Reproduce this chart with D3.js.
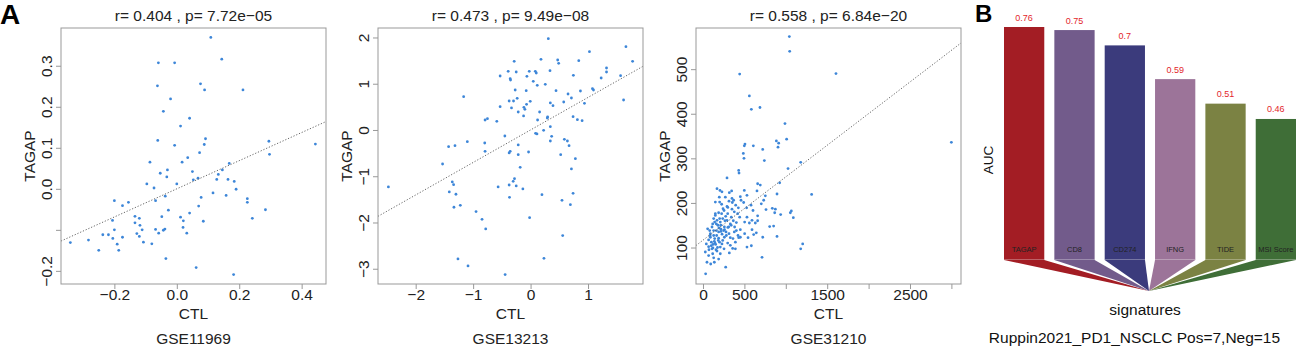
<!DOCTYPE html>
<html lang="en">
<head>
<meta charset="UTF-8">
<title>TAGAP vs CTL / AUC</title>
<style>
* { margin: 0; padding: 0; }
body { background: #fff; }
svg { display: block; font-family: "Liberation Sans", Arial, sans-serif; }
</style>
<script src="https://cdn.jsdelivr.net/npm/d3@7"></script>
</head>
<body>
<svg width="1299" height="350" id="svg1"></svg>
<script>
// ---- panel A data: [CTL, TAGAP] ----
const gse11969 = [
  [0.109,0.369],[0.144,0.316],[-0.059,0.307],[-0.007,0.307],[-0.062,0.251],[0.076,0.256],[0.089,0.241],[0.212,0.241],
  [-0.020,0.219],[-0.043,0.189],[0.041,0.172],[0.012,0.153],[-0.061,0.118],[0.092,0.122],[0.088,0.108],[-0.007,0.106],
  [0.295,0.116],[0.444,0.109],[0.297,0.084],[0.073,0.088],[0.035,0.076],[-0.086,0.065],[0.017,0.065],[0.168,0.062],
  [-0.030,0.046],[-0.053,0.038],[-0.032,0.029],[0.050,0.042],[0.133,0.035],[0.146,0.046],[0.068,0.026],[0.053,0.022],
  [0.128,0.023],[0.164,0.023],[0.184,0.018],[0.190,-0.001],[0.000,0.012],[-0.096,0.012],[-0.073,0.002],[0.116,-0.010],
  [0.158,-0.016],[-0.037,-0.018],[0.078,-0.021],[0.226,-0.024],[0.226,-0.033],[-0.068,-0.029],[-0.200,-0.029],[-0.155,-0.033],
  [-0.174,-0.041],[0.070,-0.042],[-0.027,-0.052],[0.284,-0.051],[0.041,-0.059],[-0.134,-0.067],[-0.048,-0.068],[0.012,-0.069],
  [-0.120,-0.072],[0.242,-0.072],[0.021,-0.078],[0.085,-0.079],[-0.206,-0.077],[-0.134,-0.083],[-0.118,-0.089],[0.020,-0.094],
  [-0.068,-0.099],[-0.111,-0.100],[-0.200,-0.100],[-0.038,-0.098],[-0.043,-0.101],[-0.058,-0.108],[0.032,-0.108],[-0.237,-0.112],
  [-0.219,-0.112],[-0.128,-0.109],[-0.120,-0.116],[-0.174,-0.118],[-0.205,-0.121],[-0.283,-0.125],[-0.341,-0.131],[-0.107,-0.130],
  [-0.080,-0.134],[-0.191,-0.135],[-0.250,-0.150],[-0.186,-0.150],[-0.035,-0.170],[0.062,-0.192],[0.182,-0.209]
];

const gse13213 = [
  [0.309,1.974],[1.660,1.801],[1.025,1.693],[1.776,1.484],[0.181,1.527],[0.472,1.513],[-0.285,1.484],[0.489,1.441],
  [0.839,1.499],[1.322,1.340],[0.338,1.282],[-0.390,1.268],[-0.250,1.254],[-0.023,1.268],[0.082,1.268],[0.099,1.232],
  [1.322,1.254],[-0.064,1.160],[-0.530,1.167],[0.745,1.182],[1.567,1.174],[1.229,1.124],[-0.355,1.110],[-0.349,1.081],
  [0.047,1.052],[0.116,0.965],[0.256,0.987],[1.077,0.893],[1.095,0.865],[-0.268,0.865],[-0.076,0.850],[0.443,0.850],
  [0.868,0.843],[0.652,0.778],[-1.165,0.720],[1.619,0.648],[0.711,0.692],[-0.233,0.684],[-0.373,0.627],[-0.297,0.627],
  [-0.006,0.620],[0.577,0.605],[0.344,0.584],[-0.070,0.555],[0.390,0.526],[0.938,0.576],[-0.530,0.504],[-0.332,0.476],
  [-0.116,0.490],[-0.099,0.447],[-0.215,0.389],[0.157,0.389],[-0.122,0.303],[0.740,0.288],[0.297,0.281],[0.291,0.259],
  [0.815,0.223],[0.897,0.202],[-0.792,0.216],[-0.751,0.245],[-0.588,0.187],[0.122,0.216],[0.344,0.072],[0.227,-0.007],
  [0.087,-0.072],[0.111,-0.086],[-0.448,-0.130],[0.367,-0.137],[-1.101,-0.252],[0.588,-0.202],[0.641,-0.238],[-1.427,-0.360],
  [-1.316,-0.339],[0.344,-0.238],[0.670,-0.339],[-0.215,-0.324],[-0.798,-0.281],[-0.792,-0.461],[-0.355,-0.461],[-0.373,-0.497],
  [-0.035,-0.476],[-0.215,-0.533],[0.524,-0.533],[0.780,-0.620],[-1.532,-0.735],[-0.181,-0.807],[0.711,-0.843],[-0.280,-1.052],
  [-1.363,-1.124],[-1.340,-1.182],[-0.565,-1.232],[-0.373,-1.189],[-0.250,-1.210],[-2.475,-1.232],[-0.303,-1.110],[-0.134,-1.275],
  [-1.415,-1.340],[-1.299,-1.390],[0.740,-1.369],[0.198,-1.398],[-0.367,-1.455],[0.547,-1.520],[0.693,-1.614],[-1.223,-1.628],
  [-1.334,-1.671],[-0.949,-1.765],[-0.017,-1.895],[-0.845,-1.931],[-0.781,-2.140],[0.559,-2.284],[-1.264,-2.788],[0.233,-2.774],
  [-1.089,-2.939],[-0.443,-3.127]
];

const gse31210 = [
  [1043,573],[1047,540],[1606,490],[443,489],[560,440],[584,410],[688,414],[990,378],[1010,343],[886,339],[914,334],[906,325],
  [608,328],[507,332],[499,328],[721,320],[741,295],[487,311],[495,300],[1027,277],[1180,291],[3000,336],[1312,219],[894,220],
  [431,273],[435,267],[290,256],[926,245],[660,243],[692,240],[753,216],[652,227],[761,185],[837,188],[874,186],[866,178],
  [938,174],[1067,182],[1091,167],[1055,178],[805,147],[853,148],[894,125],[721,123],[660,160],[632,155],[644,133],[713,78],
  [1180,97],[1204,108],[274,56],[32,41],[531,101],[584,104],[560,155],[612,129],[503,157],[527,189],[604,183],[660,171],
  [704,198],[733,206],[580,195],[531,217],[499,228],[451,214],[459,206],[491,201],[427,189],[419,176],[443,168],[403,156],
  [382,146],[451,140],[423,127],[431,122],[362,120],[330,122],[314,131],[282,127],[258,123],[250,138],[217,141],[193,144],
  [161,138],[129,127],[189,121],[238,116],[298,110],[318,88],[358,98],[330,153],[366,160],[342,168],[298,176],[274,170],
  [254,183],[225,176],[242,187],[225,197],[201,202],[197,213],[205,228],[169,232],[149,202],[189,178],[149,172],[169,161],
  [201,165],[141,157],[109,146],[129,138],[89,131],[81,138],[56,142],[189,135],[209,157],[229,225],[318,223],[346,227],
  [370,206],[395,195],[290,192],[314,204],[354,201],[350,186],[378,180],[270,213],[149,176],[89,123],[40,108],[68,102],
  [109,97],[137,114],[153,107],[121,107],[117,86],[129,77],[68,82],[93,63],[48,67],[169,92],[209,101],[209,86],
  [157,95],[185,116],[165,127],[141,120],[101,112],[72,95],[28,90],[85,127],[258,146],[217,136],[278,135],[310,146],
  [378,135],[403,138],[451,123],[330,105],[391,97],[229,108],[254,97],[189,74],[137,67],[68,117],[391,112],[503,131],
  [544,122],[592,140],[531,168],[592,161],[290,161],[238,165],[117,153],[129,165],[161,153],[100,104],[120,99],[145,110],
  [175,100],[200,112],[230,130],[260,140],[300,145],[340,150],[180,150],[215,150],[265,160],[300,190],[350,210]
];

const datasets = ["GSE11969", "GSE13213", "GSE31210"];
const statLabels = ["r= 0.404 , p= 7.72e\u221205", "r= 0.473 , p= 9.49e\u221208", "r= 0.558 , p= 6.84e\u221220"];
// regression line: [intercept, slope]
const fitLines = [[0.000, 0.343], [0.001, 0.703], [116.5, 0.1419]];
const xDomains = [[-0.371, 0.478], [-2.656, 1.957], [-84.5, 3116]];
const yDomains = [[-0.232, 0.392], [-3.33, 2.205], [18.2, 592.3]];
const xTicks = [[-0.2, 0, 0.2, 0.4], [-2, -1, 0, 1], [0, 500, 1000, 1500, 2000, 2500, 3000]];
const xTickLabels = [["\u22120.2", "0.0", "0.2", "0.4"], ["\u22122", "\u22121", "0", "1"], ["0", "500", "", "1500", "", "2500", ""]];
const yTicks = [[-0.2, -0.1, 0, 0.1, 0.2, 0.3], [-3, -2, -1, 0, 1, 2], [100, 200, 300, 400, 500]];
const yTickLabels = [["\u22120.2", "", "0.0", "0.1", "0.2", "0.3"], ["\u22123", "\u22122", "\u22121", "0", "1", "2"], ["100", "200", "300", "400", "500"]];

// ---- panel B data ----
const signatures = ["TAGAP", "CD8", "CD274", "IFNG", "TIDE", "MSI Score"];
const auc = [0.76, 0.75, 0.7, 0.59, 0.51, 0.46];
const barColors = ["#a31d24", "#725b8b", "#3b3b7c", "#9c7499", "#7b8243", "#3f6e37"];

const svg = d3.select("#svg1");
const allPts = [gse11969, gse13213, gse31210];
const boxLeft = [61, 378, 696];
const boxW = 265, boxTop = 28, boxBottom = 284;
const font = "Liberation Sans, Arial, sans-serif";

allPts.forEach((pts, i) => {
  const x = d3.scaleLinear().domain(xDomains[i]).range([boxLeft[i], boxLeft[i] + boxW]);
  const y = d3.scaleLinear().domain(yDomains[i]).range([boxBottom, boxTop]);
  const g = svg.append("g");

  // points
  g.append("g").selectAll("circle").data(pts).enter()
    .append("circle")
    .attr("cx", d => x(d[0]))
    .attr("cy", d => y(d[1]))
    .attr("r", 1.4)
    .attr("fill", "#3d86d8");

  // dotted fit line across the box
  const [a, b] = fitLines[i];
  const xd = xDomains[i];
  g.append("line")
    .attr("x1", x(xd[0])).attr("y1", y(a + b * xd[0]))
    .attr("x2", x(xd[1])).attr("y2", y(a + b * xd[1]))
    .attr("stroke", "#666")
    .attr("stroke-width", 1)
    .attr("stroke-dasharray", "1.2,1.8");

  // box
  g.append("rect")
    .attr("x", boxLeft[i]).attr("y", boxTop)
    .attr("width", boxW).attr("height", boxBottom - boxTop)
    .attr("fill", "none").attr("stroke", "#999").attr("stroke-width", 1);

  // x axis
  const xa = g.append("g").attr("transform", `translate(0,${boxBottom})`)
    .call(d3.axisBottom(x).tickValues(xTicks[i]).tickFormat((d, k) => xTickLabels[i][k]).tickSize(5).tickSizeOuter(0));
  xa.select(".domain").remove();
  xa.selectAll("line").attr("stroke", "#999");
  xa.selectAll("text").attr("y", 16).attr("dy", 0)
    .attr("font-size", 15.5).attr("fill", "#222").attr("font-family", font);

  // y axis, rotated labels like R
  const ya = g.append("g").attr("transform", `translate(${boxLeft[i]},0)`)
    .call(d3.axisLeft(y).tickValues(yTicks[i]).tickFormat((d, k) => yTickLabels[i][k]).tickSize(5).tickSizeOuter(0));
  ya.select(".domain").remove();
  ya.selectAll("line").attr("stroke", "#999");
  ya.selectAll("text")
    .attr("transform", "rotate(-90)")
    .attr("x", 0).attr("y", -9).attr("dy", 0)
    .attr("text-anchor", "middle")
    .attr("font-size", 15.5).attr("fill", "#222").attr("font-family", font);

  const cx = boxLeft[i] + boxW / 2;
  g.append("text").attr("x", cx).attr("y", 21).attr("text-anchor", "middle")
    .attr("font-size", 15.5).attr("fill", "#222").text(statLabels[i]);
  g.append("text").attr("x", cx).attr("y", 319).attr("text-anchor", "middle")
    .attr("font-size", 15.5).attr("fill", "#222").text("CTL");
  g.append("text").attr("x", cx).attr("y", 344).attr("text-anchor", "middle")
    .attr("font-size", 15.5).attr("fill", "#222").text(datasets[i]);
  g.append("text")
    .attr("transform", `translate(${boxLeft[i] - 26},${(boxTop + boxBottom) / 2}) rotate(-90)`)
    .attr("text-anchor", "middle")
    .attr("font-size", 15.5).attr("fill", "#222").text("TAGAP");
});

svg.append("text").attr("x", 0).attr("y", 24)
  .attr("font-size", 28).attr("font-weight", "bold").attr("fill", "#000").text("A");

// ---- panel B ----
const xb = d3.scaleBand().domain(signatures).range([1004, 1296]).paddingInner(0.2);
const yb = d3.scaleLinear().domain([0, 0.76]).range([260, 27]);
const apex = [(xb.range()[0] + xb.range()[1]) / 2 - 1, yb(0) + 31];
const gb = svg.append("g");

gb.append("g").selectAll("polygon").data(signatures).enter()
  .append("polygon")
  .attr("points", d => [[xb(d), yb(0)], [xb(d) + xb.bandwidth(), yb(0)], apex].map(p => p.join(",")).join(" "))
  .attr("fill", (d, i) => barColors[i]);

gb.append("g").selectAll("rect").data(signatures).enter()
  .append("rect")
  .attr("x", d => xb(d))
  .attr("y", (d, i) => yb(auc[i]))
  .attr("width", xb.bandwidth())
  .attr("height", (d, i) => yb(0) - yb(auc[i]))
  .attr("fill", (d, i) => barColors[i]);

gb.append("g").selectAll("line").data(signatures).enter()
  .append("line")
  .attr("x1", d => xb(d)).attr("x2", d => xb(d) + xb.bandwidth())
  .attr("y1", yb(0) - 0.5).attr("y2", yb(0) - 0.5)
  .attr("stroke", "rgba(255,255,255,0.3)");

gb.append("g").selectAll("text").data(signatures).enter()
  .append("text")
  .attr("x", d => xb(d) + xb.bandwidth() / 2)
  .attr("y", (d, i) => yb(auc[i]) - 6.5)
  .attr("text-anchor", "middle")
  .attr("font-size", 9).attr("fill", "#e3262b")
  .text((d, i) => auc[i]);

gb.append("g").selectAll("text").data(signatures).enter()
  .append("text")
  .attr("x", d => xb(d) + xb.bandwidth() / 2)
  .attr("y", 251.5)
  .attr("text-anchor", "middle")
  .attr("font-size", 7.5).attr("fill", "#222")
  .text(d => d);

gb.append("text")
  .attr("transform", "translate(993,160) rotate(-90)")
  .attr("text-anchor", "middle").attr("font-size", 13.5).attr("fill", "#111").text("AUC");
gb.append("text").attr("x", 1145).attr("y", 315).attr("text-anchor", "middle")
  .attr("font-size", 15.5).attr("fill", "#111").text("signatures");
gb.append("text").attr("x", 1134.5).attr("y", 343).attr("text-anchor", "middle")
  .attr("font-size", 15.5).attr("fill", "#111").text("Ruppin2021_PD1_NSCLC Pos=7,Neg=15");
svg.append("text").attr("x", 975).attr("y", 22)
  .attr("font-size", 24).attr("font-weight", "bold").attr("fill", "#000").text("B");
</script>
</body>
</html>
